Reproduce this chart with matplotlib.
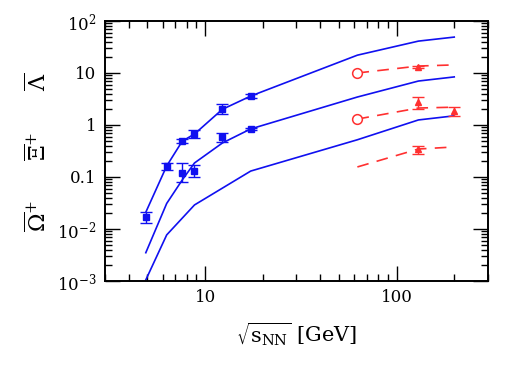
import matplotlib
matplotlib.use("Agg")
import matplotlib.pyplot as plt
from matplotlib.ticker import FixedLocator, FixedFormatter, LogLocator, NullFormatter

plt.rcParams["font.family"] = "DejaVu Serif"
plt.rcParams["mathtext.fontset"] = "dejavuserif"

# model curves (blue, solid)
lam_model_x = [4.9, 6.3, 7.6, 8.8, 12.3, 17.3, 62.4, 130, 200]
lam_model_y = [0.021, 0.163, 0.49, 0.67, 2.0, 3.6, 22, 41, 49]
xi_model_x = [4.9, 6.3, 7.6, 8.8, 12.3, 17.3, 62.4, 130, 200]
xi_model_y = [0.0035, 0.031, 0.088, 0.186, 0.45, 0.84, 3.45, 7.0, 8.4]
om_model_x = [4.9, 6.3, 8.8, 17.3, 62.4, 130, 200]
om_model_y = [0.00105, 0.0077, 0.029, 0.13, 0.52, 1.25, 1.5]

# model curves (red, dashed)
rhic_x = [62.4, 130, 200]
lam_rhic_y = [10.0, 13.6, 14.3]
xi_rhic_y = [1.30, 2.12, 2.2]
om_rhic_y = [0.156, 0.345, 0.378]

# AGS / SPS data (blue squares)
lam_x = [4.9, 6.3, 7.6, 8.8, 12.3, 17.3]
lam_y = [0.017, 0.163, 0.49, 0.67, 2.03, 3.6]
lam_lo = [0.004, 0.026, 0.04, 0.12, 0.4, 0.35]
lam_hi = [0.0044, 0.024, 0.04, 0.13, 0.45, 0.4]
xi_x = [7.6, 8.8, 12.3, 17.3]
xi_y = [0.119, 0.13, 0.59, 0.84]
xi_lo = [0.039, 0.03, 0.11, 0.04]
xi_hi = [0.068, 0.041, 0.12, 0.04]

# RHIC data (red)
circ_x = [62.4, 62.4]
circ_y = [10.0, 1.30]
tri_x = [130, 130, 200, 130]
tri_y = [13.0, 2.77, 1.86, 0.345]
tri_lo = [0.8, 0.74, 0.35, 0.068]
tri_hi = [0.8, 0.73, 0.33, 0.052]

blue = "#1010f0"
red = "#ff3030"

fig = plt.figure(figsize=(5.18, 3.68), dpi=100)
ax = fig.add_axes([0.2027, 0.2364, 0.7393, 0.7066])
ax.set_xscale("log")
ax.set_yscale("log")
ax.set_xlim(3, 300)
ax.set_ylim(1e-3, 1e2)

for mx, my in [(lam_model_x, lam_model_y), (xi_model_x, xi_model_y), (om_model_x, om_model_y)]:
    ax.plot(mx, my, color=blue, lw=1.2)

for ry in [lam_rhic_y, xi_rhic_y, om_rhic_y]:
    ax.plot(rhic_x, ry, color=red, lw=1.2, dashes=(7, 5))

ax.errorbar(lam_x, lam_y, yerr=[lam_lo, lam_hi], fmt="s", color=blue, ms=4,
            capsize=4, elinewidth=1, capthick=1)
ax.errorbar(xi_x, xi_y, yerr=[xi_lo, xi_hi], fmt="s", color=blue, ms=4,
            capsize=4, elinewidth=1, capthick=1)
ax.errorbar(tri_x, tri_y, yerr=[tri_lo, tri_hi], fmt="^", color=red, ms=4.5,
            capsize=4, elinewidth=1, capthick=1)
ax.plot(circ_x, circ_y, "o", mfc="white", mec=red, ms=7, mew=1.1)

ax.yaxis.set_major_locator(FixedLocator([1e-3, 1e-2, 0.1, 1, 10, 100]))
ax.yaxis.set_major_formatter(FixedFormatter(
    [r"$10^{-3}$", r"$10^{-2}$", "0.1", "1", "10", r"$10^{2}$"]))
ax.yaxis.set_minor_locator(LogLocator(base=10, subs=range(2, 10)))
ax.yaxis.set_minor_formatter(NullFormatter())
ax.xaxis.set_major_locator(FixedLocator([10, 100]))
ax.xaxis.set_major_formatter(FixedFormatter(["10", "100"]))
ax.xaxis.set_minor_locator(LogLocator(base=10, subs=range(2, 10)))
ax.xaxis.set_minor_formatter(NullFormatter())

ax.tick_params(which="both", direction="in", top=True, right=True, labelsize=12, width=1)
ax.tick_params(which="major", length=11, pad=6)
ax.tick_params(which="minor", length=5)
for s in ax.spines.values():
    s.set_linewidth(1.4)

ax.set_xlabel(r"$\sqrt{\mathrm{s}_{\mathrm{NN}}}$ [GeV]", fontsize=15, labelpad=10)

fig.text(38 / 518, 1 - 82 / 368, r"$\overline{\Lambda}$", rotation=90, fontsize=16,
         ha="center", va="center")
fig.text(38 / 518, 1 - 146 / 368, r"$\overline{\Xi}^{+}$", rotation=90, fontsize=16,
         ha="center", va="center")
fig.text(38 / 518, 1 - 216 / 368, r"$\overline{\Omega}^{+}$", rotation=90, fontsize=16,
         ha="center", va="center")

fig.savefig("out.png", dpi=100)
